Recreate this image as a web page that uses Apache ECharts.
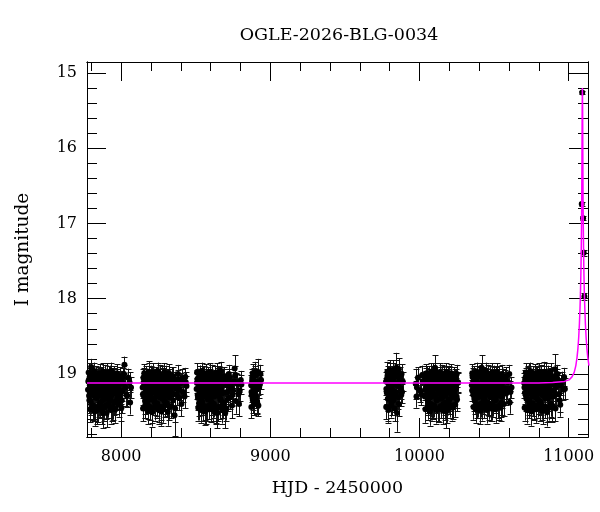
<!DOCTYPE html>
<html>
<head>
<meta charset="utf-8">
<script src="https://cdn.jsdelivr.net/npm/echarts@6/dist/echarts.min.js"></script>
<style>html,body{margin:0;padding:0;background:#fff}#c{width:600px;height:512px}</style>
</head>
<body>
<div id="c"></div>
<script>
// ---- observations: [HJD-2450000, I mag, error] ----
const season1 = [[7778,19.21,0.14],[7783,19.08,0.12],[7787,19.35,0.17],[7790,19.15,0.13],[7799,18.91,0.11],[7801,19.27,0.15],[7805,19.12,0.13],[7810,19.42,0.18],[7814,19.05,0.12],[7819,19.19,0.14],[7824,19.31,0.16],[7828,19.10,0.12],[7833,19.24,0.14],[7838,19.48,0.19],[7842,19.02,0.11],[7847,19.17,0.13],[7851,19.29,0.15],[7856,19.13,0.13],[7861,19.38,0.17],[7866,19.07,0.12],[7870,19.22,0.14],[7875,19.16,0.13],[7880,19.52,0.20],[7884,19.11,0.12],[7889,19.26,0.15],[7893,19.04,0.11],[7898,19.33,0.16],[7903,19.19,0.14],[7908,19.09,0.12],[7912,19.40,0.18],[7917,19.14,0.13],[7921,19.23,0.14],[7926,19.06,0.12],[7931,19.30,0.16],[7936,19.18,0.13],[7940,19.45,0.18],[7945,19.12,0.13],[7950,19.25,0.15],[7955,19.03,0.11],[7960,19.20,0.14],[7966,19.36,0.17],[7972,19.10,0.12],[7978,19.27,0.15],[7985,19.15,0.13],[7992,19.32,0.16],[8000,19.08,0.12],[8008,19.22,0.14],[8016,19.13,0.13],[8022,18.88,0.11],[8035,19.28,0.15],[8047,19.05,0.12],[8066,19.18,0.14]];
const season2 = [[8144,19.18,0.14],[8149,19.05,0.12],[8153,19.30,0.16],[8158,19.12,0.13],[8163,19.41,0.18],[8167,19.09,0.12],[8172,19.24,0.14],[8176,19.15,0.13],[8181,19.35,0.17],[8186,19.20,0.14],[8190,19.00,0.17],[8195,19.28,0.15],[8199,19.07,0.12],[8204,19.46,0.19],[8209,19.13,0.13],[8213,19.22,0.14],[8218,19.04,0.11],[8222,19.33,0.16],[8227,19.17,0.13],[8232,19.26,0.15],[8236,19.10,0.12],[8241,19.39,0.17],[8246,19.14,0.13],[8250,19.21,0.14],[8255,19.06,0.12],[8259,19.31,0.16],[8264,19.19,0.14],[8269,19.50,0.19],[8273,19.11,0.12],[8278,19.25,0.15],[8283,19.03,0.11],[8287,19.16,0.13],[8292,19.36,0.17],[8297,19.08,0.12],[8302,19.23,0.14],[8307,19.13,0.13],[8312,19.29,0.15],[8318,19.05,0.12],[8324,19.43,0.18],[8330,19.18,0.14],[8337,19.10,0.12],[8344,19.27,0.15],[8352,19.15,0.13],[8358,19.55,0.28],[8369,19.20,0.14],[8378,19.07,0.12],[8388,19.32,0.16],[8400,19.12,0.13],[8416,19.24,0.14],[8438,19.16,0.13]];
const season3 = [[8506,19.20,0.14],[8511,19.07,0.12],[8515,19.32,0.16],[8520,19.13,0.13],[8524,19.44,0.18],[8529,19.02,0.13],[8534,19.26,0.15],[8538,19.16,0.13],[8543,19.37,0.17],[8548,19.09,0.12],[8552,19.22,0.14],[8557,19.04,0.11],[8561,19.30,0.16],[8566,19.14,0.13],[8571,19.48,0.19],[8575,19.11,0.12],[8580,19.25,0.15],[8585,19.18,0.14],[8589,19.06,0.12],[8594,19.34,0.16],[8599,19.15,0.13],[8603,19.23,0.14],[8608,19.01,0.13],[8613,19.28,0.15],[8617,19.12,0.13],[8622,19.40,0.18],[8627,19.19,0.14],[8631,19.08,0.12],[8636,19.27,0.15],[8641,19.14,0.13],[8645,19.52,0.20],[8650,19.10,0.12],[8655,19.21,0.14],[8660,19.03,0.12],[8665,19.33,0.16],[8670,19.17,0.13],[8676,19.26,0.15],[8682,19.05,0.12],[8688,19.38,0.17],[8698,19.52,0.20],[8704,19.13,0.13],[8712,19.24,0.14],[8720,19.09,0.12],[8730,19.31,0.16],[8740,19.16,0.13],[8750,19.22,0.14],[8761,18.93,0.18],[8772,19.11,0.12],[8786,19.27,0.15],[8806,19.14,0.13]];
const season4 = [[8872,19.15,0.13],[8876,19.28,0.15],[8879,19.05,0.12],[8883,19.35,0.17],[8887,19.12,0.13],[8891,19.22,0.14],[8896,18.98,0.14],[8902,19.30,0.16],[8908,19.10,0.12],[8915,18.97,0.17],[8920,19.42,0.14],[8925,19.18,0.14],[8938,19.08,0.12]];
const season5 = [[9776,19.10,0.13],[9781,19.25,0.15],[9786,19.02,0.12],[9790,19.45,0.17],[9795,19.15,0.13],[9800,18.98,0.12],[9805,19.30,0.16],[9810,19.08,0.12],[9815,19.20,0.14],[9820,18.95,0.13],[9826,19.35,0.16],[9831,19.12,0.13],[9837,19.03,0.12],[9843,19.24,0.15],[9846,18.92,0.20],[9850,19.52,0.25],[9855,19.16,0.13],[9862,18.94,0.15],[9869,19.05,0.14],[9878,19.28,0.15],[9888,19.10,0.13]];
const season6 = [[9975,19.13,0.20],[9990,19.05,0.14],[10004,19.22,0.15],[10022,19.10,0.13],[10036,19.30,0.16],[10041,19.08,0.12],[10046,19.18,0.14],[10051,19.02,0.12],[10056,19.35,0.17],[10061,19.12,0.13],[10066,19.24,0.14],[10071,19.06,0.12],[10076,19.40,0.18],[10081,19.15,0.13],[10086,19.21,0.14],[10091,18.99,0.13],[10096,19.29,0.15],[10100,19.11,0.13],[10104,18.92,0.17],[10109,19.19,0.14],[10114,19.33,0.16],[10119,19.07,0.12],[10124,19.25,0.15],[10129,19.14,0.13],[10134,19.46,0.18],[10139,19.09,0.12],[10144,19.22,0.14],[10149,19.03,0.12],[10154,19.31,0.16],[10159,19.16,0.13],[10164,19.27,0.15],[10169,19.10,0.12],[10174,19.38,0.17],[10179,19.50,0.22],[10184,19.13,0.13],[10189,19.20,0.14],[10194,19.05,0.12],[10199,19.34,0.16],[10204,19.17,0.13],[10210,19.26,0.15],[10216,19.08,0.12],[10222,19.42,0.18],[10228,19.15,0.13],[10235,19.23,0.14],[10242,19.06,0.12],[10249,19.30,0.16],[10256,19.12,0.13]];
const season7 = [[10351,19.15,0.13],[10356,19.04,0.12],[10361,19.28,0.15],[10366,19.10,0.13],[10371,19.36,0.17],[10376,19.07,0.12],[10381,19.20,0.14],[10386,18.98,0.13],[10391,19.31,0.16],[10396,19.13,0.13],[10401,19.24,0.14],[10406,19.02,0.12],[10411,19.40,0.18],[10417,18.92,0.17],[10422,19.18,0.14],[10427,19.27,0.15],[10432,19.09,0.12],[10437,19.33,0.16],[10442,19.14,0.13],[10447,19.22,0.14],[10452,19.05,0.12],[10457,19.38,0.17],[10462,19.16,0.13],[10467,19.25,0.15],[10472,19.08,0.12],[10477,19.30,0.16],[10482,19.12,0.13],[10487,19.44,0.18],[10492,19.19,0.14],[10497,19.03,0.12],[10502,19.27,0.15],[10507,19.14,0.13],[10512,19.35,0.17],[10517,19.10,0.12],[10522,19.21,0.14],[10528,19.06,0.12],[10534,19.29,0.15],[10540,19.15,0.13],[10546,19.40,0.17],[10552,19.38,0.17],[10558,19.11,0.13],[10566,19.24,0.14],[10575,19.07,0.12],[10588,19.20,0.14],[10602,19.00,0.12],[10617,19.18,0.14]];
const season8 = [[10702,19.12,0.13],[10707,19.25,0.15],[10712,19.04,0.12],[10717,19.33,0.16],[10722,19.10,0.13],[10727,19.20,0.14],[10732,18.99,0.13],[10737,19.37,0.17],[10742,19.14,0.13],[10747,19.23,0.14],[10752,19.06,0.12],[10757,19.30,0.16],[10762,19.16,0.13],[10767,19.42,0.18],[10772,19.09,0.12],[10777,19.26,0.15],[10782,19.02,0.12],[10787,19.19,0.14],[10792,19.34,0.16],[10797,19.11,0.13],[10802,19.24,0.14],[10807,19.05,0.12],[10812,19.38,0.17],[10817,19.15,0.13],[10822,19.28,0.15],[10827,19.08,0.12],[10832,19.21,0.14],[10837,18.97,0.13],[10842,19.32,0.16],[10847,19.13,0.13],[10852,19.46,0.18],[10857,19.10,0.12],[10862,19.25,0.15],[10867,19.17,0.13],[10872,19.04,0.12],[10878,19.30,0.16],[10884,19.14,0.13],[10888,19.44,0.20],[10895,19.22,0.14],[10902,19.07,0.12],[10910,18.94,0.20],[10918,19.27,0.15],[10928,19.12,0.13],[10940,19.35,0.16],[10955,19.09,0.12],[10975,19.20,0.14]];
const eventPoints = [[11091,15.26,0.02],[11088,16.74,0.03],[11097,16.93,0.03],[11101,17.39,0.04],[11106,17.97,0.05]];

// further nights in each season (times, magnitudes, errors)
const extra1T = [7780,7785,7789,7793,7796,7803,7807,7812,7816,7821,7826,7830,7836,7840,7845,7849,7853,7858,7863,7868,7872,7877,7882,7886,7891,7896,7900,7905,7910,7915,7919,7924,7928,7933,7938,7943,7948,7952,7957,7963,7969,7975,7981,7988,7996,8004,8012,8028,8041,8056];
const extra1M = [19.10,19.29,19.04,19.22,19.37,19.14,19.01,19.26,19.17,19.44,19.09,19.20,19.32,19.06,19.25,19.13,19.40,19.03,19.18,19.28,19.11,19.35,19.07,19.21,19.15,19.42,19.05,19.24,19.30,19.12,19.01,19.19,19.34,19.08,19.27,19.16,19.03,19.38,19.14,19.23,19.06,19.31,19.19,19.09,19.25,19.35,19.04,19.18,19.29,19.11];
const extra1E = [0.13,0.15,0.12,0.14,0.17,0.13,0.12,0.15,0.13,0.18,0.12,0.14,0.16,0.12,0.15,0.13,0.17,0.11,0.14,0.15,0.12,0.16,0.12,0.14,0.13,0.18,0.12,0.14,0.16,0.13,0.11,0.14,0.16,0.12,0.15,0.13,0.11,0.17,0.13,0.14,0.12,0.16,0.14,0.12,0.15,0.17,0.12,0.14,0.15,0.13];
const extra1bT = [7782,7792,7798,7808,7818,7823,7832,7844,7855,7860,7865,7874,7879,7888,7895,7902,7907,7914,7923,7930,7935,7942,7954,7962,7970,7983,7990,8002,8019,8060];
const extra1bM = [18.98,19.47,19.01,19.44,18.96,19.50,19.02,19.46,18.99,19.43,19.03,19.49,18.97,19.45,19.00,19.52,18.98,19.42,19.01,19.48,18.96,19.44,19.02,19.47,18.99,19.41,19.03,19.45,19.00,19.38];
const extra1bE = [0.12,0.17,0.12,0.17,0.11,0.19,0.12,0.18,0.12,0.16,0.12,0.18,0.11,0.17,0.12,0.19,0.12,0.16,0.12,0.18,0.11,0.17,0.12,0.18,0.12,0.16,0.12,0.17,0.12,0.16];
const extra2T = [8146,8151,8156,8160,8165,8170,8174,8179,8183,8188,8192,8197,8202,8206,8211,8216,8220,8225,8229,8234,8239,8243,8248,8253,8257,8262,8266,8271,8276,8280,8285,8290,8294,8299,8305,8310,8315,8321,8327,8334,8341,8348,8355,8364,8373,8383,8394,8407,8425,8433];
const extra2M = [19.27,19.11,19.03,19.36,19.19,19.24,19.06,19.42,19.13,19.30,19.08,19.17,19.25,19.02,19.34,19.15,19.21,19.38,19.09,19.20,19.04,19.29,19.16,19.45,19.12,19.06,19.26,19.18,19.33,19.10,19.22,19.05,19.28,19.14,19.39,19.07,19.19,19.31,19.12,19.24,19.02,19.35,19.17,19.09,19.27,19.14,19.21,19.06,19.30,19.11];
const extra2E = [0.15,0.12,0.11,0.17,0.14,0.14,0.12,0.18,0.13,0.16,0.12,0.13,0.15,0.11,0.16,0.13,0.14,0.17,0.12,0.14,0.11,0.15,0.13,0.19,0.13,0.12,0.15,0.14,0.16,0.12,0.14,0.11,0.15,0.13,0.17,0.12,0.14,0.16,0.13,0.14,0.11,0.17,0.13,0.12,0.15,0.13,0.14,0.12,0.16,0.13];
const extra2bT = [8147,8155,8162,8169,8178,8185,8193,8201,8208,8215,8224,8231,8238,8245,8252,8261,8268,8275,8282,8289,8296,8304,8313,8320,8332,8346,8362,8381,8404,8430];
const extra2bM = [19.46,18.99,19.43,19.02,19.49,18.97,19.44,19.01,19.51,18.98,19.45,19.03,19.42,18.96,19.48,19.00,19.44,19.02,19.47,18.98,19.41,19.01,19.50,18.99,19.43,19.03,19.46,19.00,19.40,19.04];
const extra2bE = [0.17,0.12,0.16,0.12,0.18,0.11,0.17,0.12,0.19,0.12,0.17,0.12,0.16,0.11,0.18,0.12,0.17,0.12,0.18,0.12,0.16,0.12,0.19,0.12,0.16,0.12,0.18,0.12,0.16,0.12];
const extra3T = [8508,8513,8518,8522,8527,8531,8536,8541,8545,8550,8555,8559,8564,8568,8573,8578,8582,8587,8592,8596,8601,8606,8610,8615,8620,8624,8629,8634,8638,8643,8648,8652,8657,8662,8667,8673,8679,8685,8692,8701,8708,8716,8725,8735,8745,8755,8767,8779,8795,8802];
const extra3M = [19.12,19.28,19.05,19.39,19.17,19.23,19.08,19.31,19.14,19.02,19.26,19.19,19.43,19.10,19.21,19.06,19.34,19.15,19.27,19.04,19.18,19.37,19.11,19.24,19.07,19.30,19.16,19.46,19.13,19.22,19.03,19.29,19.17,19.09,19.35,19.20,19.12,19.41,19.06,19.25,19.15,19.33,19.04,19.19,19.28,19.10,19.36,19.13,19.22,19.08];
const extra3E = [0.13,0.15,0.12,0.17,0.13,0.14,0.12,0.16,0.13,0.12,0.15,0.14,0.18,0.12,0.14,0.12,0.16,0.13,0.15,0.11,0.14,0.17,0.12,0.14,0.12,0.16,0.13,0.19,0.13,0.14,0.11,0.15,0.13,0.12,0.16,0.14,0.13,0.18,0.12,0.15,0.13,0.16,0.11,0.14,0.15,0.12,0.17,0.13,0.14,0.12];
const extra3bT = [8509,8517,8526,8533,8540,8547,8554,8563,8570,8577,8584,8591,8598,8605,8612,8619,8626,8633,8640,8647,8654,8661,8669,8678,8690,8706,8722,8743,8764,8790];
const extra3bM = [18.98,19.45,19.01,19.48,18.96,19.43,19.02,19.50,18.99,19.46,19.03,19.42,18.97,19.47,19.00,19.44,19.02,19.51,18.98,19.45,19.01,19.43,18.96,19.48,19.03,19.46,19.00,19.42,19.02,19.40];
const extra3bE = [0.12,0.17,0.12,0.17,0.11,0.19,0.12,0.18,0.12,0.16,0.12,0.18,0.11,0.17,0.12,0.19,0.12,0.16,0.12,0.18,0.11,0.17,0.12,0.18,0.12,0.16,0.12,0.17,0.12,0.16];
const extra4T = [8874,8878,8881,8885,8889,8894,8899,8905,8911,8930,8873,8882,8893,8900,8912,8934];
const extra4M = [19.24,19.09,19.32,19.18,19.04,19.27,19.13,19.21,19.36,19.14,19.44,18.99,19.40,19.02,19.38,19.00];
const extra4E = [0.14,0.12,0.16,0.13,0.12,0.15,0.13,0.14,0.16,0.13,0.15,0.12,0.15,0.12,0.15,0.12];
const extra5T = [9778,9783,9788,9793,9798,9803,9808,9813,9818,9823,9829,9834,9840,9852,9858,9865,9873,9883,9777,9785,9792,9801,9812,9822,9833,9844,9860,9880];
const extra5M = [19.20,19.06,19.33,19.12,19.25,19.02,19.17,19.38,19.09,19.22,19.05,19.28,19.14,19.00,19.31,19.10,19.19,19.24,19.44,18.97,19.48,18.95,19.42,18.98,19.46,18.96,19.40,19.00];
const extra5E = [0.14,0.12,0.16,0.13,0.15,0.12,0.13,0.17,0.12,0.14,0.12,0.15,0.13,0.13,0.16,0.13,0.14,0.15,0.16,0.13,0.17,0.13,0.16,0.12,0.17,0.14,0.16,0.13];
const extra6T = [10038,10043,10048,10053,10058,10063,10068,10073,10078,10083,10088,10093,10098,10102,10106,10111,10116,10121,10126,10131,10136,10141,10146,10151,10156,10161,10166,10171,10176,10181,10186,10191,10196,10201,10207,10213,10219,10225,10231,10238,10245,10252,10259,9983,10012];
const extra6M = [19.21,19.04,19.27,19.13,19.38,19.09,19.19,19.31,19.06,19.24,19.14,19.42,19.02,19.17,19.28,19.10,19.35,19.20,19.07,19.26,19.15,19.33,19.05,19.22,19.12,19.40,19.18,19.08,19.29,19.14,19.24,19.03,19.36,19.16,19.21,19.09,19.31,19.13,19.25,19.06,19.19,19.34,19.11,19.18,19.27];
const extra6E = [0.14,0.12,0.15,0.13,0.17,0.12,0.14,0.16,0.12,0.14,0.13,0.18,0.12,0.13,0.15,0.12,0.17,0.14,0.12,0.15,0.13,0.16,0.12,0.14,0.13,0.18,0.14,0.12,0.15,0.13,0.14,0.12,0.17,0.13,0.14,0.12,0.16,0.13,0.15,0.12,0.14,0.16,0.13,0.14,0.15];
const extra6bT = [10040,10047,10055,10062,10069,10077,10084,10092,10099,10107,10113,10120,10127,10135,10142,10150,10157,10165,10172,10180,10187,10195,10203,10211,10220,10230,10240,10250,9980,10017];
const extra6bM = [19.47,18.99,19.44,19.02,19.50,18.97,19.45,19.01,19.42,18.96,19.48,19.03,19.46,18.98,19.43,19.00,19.49,19.02,19.44,18.97,19.47,19.01,19.42,18.99,19.45,19.03,19.41,19.00,19.30,19.02];
const extra6bE = [0.18,0.12,0.17,0.12,0.19,0.11,0.17,0.12,0.16,0.11,0.18,0.12,0.17,0.12,0.16,0.12,0.18,0.12,0.17,0.11,0.18,0.12,0.16,0.12,0.17,0.12,0.16,0.12,0.15,0.13];
const extra7T = [10353,10358,10363,10368,10373,10378,10383,10388,10393,10398,10403,10408,10414,10419,10424,10429,10434,10439,10444,10449,10454,10459,10464,10469,10474,10479,10484,10489,10494,10499,10504,10509,10514,10519,10525,10531,10537,10543,10549,10555,10562,10570,10581,10595,10610];
const extra7M = [19.22,19.12,19.05,19.33,19.17,19.26,19.09,19.41,19.14,19.20,19.03,19.30,19.15,19.24,19.07,19.36,19.11,19.19,19.28,19.04,19.23,19.13,19.39,19.08,19.18,19.31,19.06,19.25,19.14,19.34,19.10,19.21,19.02,19.28,19.16,19.43,19.09,19.22,19.13,19.30,19.05,19.19,19.26,19.11,19.24];
const extra7E = [0.14,0.13,0.12,0.16,0.13,0.15,0.12,0.18,0.13,0.14,0.12,0.16,0.13,0.14,0.12,0.17,0.13,0.14,0.15,0.12,0.14,0.13,0.17,0.12,0.14,0.16,0.12,0.15,0.13,0.16,0.12,0.14,0.11,0.15,0.13,0.18,0.12,0.14,0.13,0.16,0.12,0.14,0.15,0.13,0.14];
const extra7bT = [10354,10362,10369,10377,10384,10392,10399,10407,10415,10421,10428,10436,10443,10450,10458,10465,10473,10480,10488,10495,10503,10510,10518,10526,10535,10544,10553,10565,10580,10605];
const extra7bM = [18.99,19.44,19.02,19.47,18.97,19.42,19.01,19.49,18.98,19.45,19.03,19.43,18.96,19.48,19.00,19.44,19.02,19.46,18.98,19.41,19.01,19.47,18.97,19.43,19.02,19.45,19.00,19.40,19.03,19.38];
const extra7bE = [0.12,0.17,0.12,0.18,0.11,0.16,0.12,0.18,0.12,0.17,0.12,0.16,0.11,0.18,0.12,0.17,0.12,0.17,0.12,0.16,0.12,0.18,0.11,0.16,0.12,0.17,0.12,0.16,0.12,0.15];
const extra8T = [10704,10709,10714,10719,10724,10729,10734,10739,10744,10749,10754,10759,10764,10769,10774,10779,10784,10789,10794,10799,10804,10809,10814,10819,10824,10829,10834,10839,10844,10849,10854,10859,10864,10869,10875,10881,10886,10892,10898,10906,10914,10923,10934,10947,10965];
const extra8M = [19.18,19.07,19.29,19.14,19.23,19.03,19.35,19.11,19.20,19.26,19.08,19.39,19.15,19.22,19.05,19.31,19.12,19.27,19.17,19.02,19.36,19.13,19.21,19.09,19.43,19.16,19.24,19.06,19.28,19.11,19.19,19.33,19.08,19.25,19.14,19.40,19.04,19.22,19.30,19.13,19.18,19.06,19.27,19.15,19.21];
const extra8E = [0.14,0.12,0.15,0.13,0.14,0.12,0.16,0.13,0.14,0.15,0.12,0.17,0.13,0.14,0.12,0.16,0.13,0.15,0.13,0.12,0.17,0.13,0.14,0.12,0.18,0.13,0.14,0.12,0.15,0.13,0.14,0.16,0.12,0.15,0.13,0.17,0.12,0.14,0.16,0.13,0.14,0.12,0.15,0.13,0.14];
const extra8bT = [10705,10713,10720,10728,10735,10743,10750,10758,10765,10773,10780,10788,10795,10803,10810,10818,10825,10833,10840,10848,10855,10863,10870,10879,10890,10900,10912,10925,10944,10970];
const extra8bM = [19.45,18.98,19.48,19.01,19.43,18.96,19.50,19.02,19.44,18.99,19.47,19.03,19.42,18.97,19.46,19.00,19.49,19.02,19.43,18.98,19.51,19.01,19.45,18.97,19.42,19.03,19.46,19.00,19.41,19.04];
const extra8bE = [0.17,0.12,0.18,0.12,0.16,0.11,0.19,0.12,0.17,0.12,0.18,0.12,0.16,0.11,0.17,0.12,0.18,0.12,0.16,0.12,0.19,0.12,0.17,0.11,0.16,0.12,0.17,0.12,0.16,0.12];

// model light curve
const modelT   = [7771, 9000, 10000, 10800, 10892.5, 10972.5, 11002.5, 11022.5, 11037.5, 11048.5, 11056.5, 11062.5, 11067.5, 11072.5, 11076.5, 11079.5, 11082.5, 11084.5, 11086.5, 11088, 11089.5, 11091, 11092.5, 11094, 11095.5, 11097, 11098.5, 11100.5, 11102.5, 11105.5, 11108.5, 11112.5, 11117.5, 11122.5, 11128.5, 11136.5];
const modelMag = [19.12, 19.12, 19.12, 19.12, 19.115, 19.10, 19.08, 19.04, 18.98, 18.89, 18.78, 18.66, 18.52, 18.33, 18.12, 17.92, 17.65, 17.40, 17.05, 16.70, 16.15, 15.50, 15.20, 15.50, 16.15, 16.70, 17.05, 17.40, 17.65, 17.92, 18.12, 18.33, 18.52, 18.66, 18.78, 18.89];

// axis ticks
const xMajor = [8000, 9000, 10000, 11000];
const xMinor = [7800, 8200, 8400, 8600, 8800, 9200, 9400, 9600, 9800, 10200, 10400, 10600, 10800];
const yMajor = [15, 16, 17, 18, 19];
const yMinor = [15.2, 15.4, 15.6, 15.8, 16.2, 16.4, 16.6, 16.8, 17.2, 17.4, 17.6, 17.8, 18.2, 18.4, 18.6, 18.8, 19.2, 19.4, 19.6, 19.8];
const xRange = [7771, 11130];
const yRange = [14.854, 19.839];

const FONT = 'DejaVu Serif';
function zip(T, M, E) {
  const out = [];
  const n = Math.min(T.length, M.length, E.length);
  for (let i = 0; i < n; i++) out.push([T[i], M[i], E[i]]);
  return out;
}
const allObs = [].concat(
  season1, zip(extra1T, extra1M, extra1E), zip(extra1bT, extra1bM, extra1bE),
  season2, zip(extra2T, extra2M, extra2E), zip(extra2bT, extra2bM, extra2bE),
  season3, zip(extra3T, extra3M, extra3E), zip(extra3bT, extra3bM, extra3bE),
  season4, zip(extra4T, extra4M, extra4E),
  season5, zip(extra5T, extra5M, extra5E),
  season6, zip(extra6T, extra6M, extra6E), zip(extra6bT, extra6bM, extra6bE),
  season7, zip(extra7T, extra7M, extra7E), zip(extra7bT, extra7bM, extra7bE),
  season8, zip(extra8T, extra8M, extra8E), zip(extra8bT, extra8bM, extra8bE),
  eventPoints);
const modelData = modelT.map((t, i) => [t, modelMag[i]]);

const fmt = v => String(v);
function xAx(pos, ticks, len, labels, extra) {
  return Object.assign({
    type: 'value', position: pos, min: xRange[0], max: xRange[1],
    axisLine: { show: true, onZero: false, lineStyle: { color: '#000', width: 1 } },
    axisTick: { show: true, inside: true, length: len, customValues: ticks, lineStyle: { color: '#000', width: 1 } },
    axisLabel: labels ? { show: true, customValues: ticks, formatter: fmt, color: '#000', fontFamily: FONT, fontSize: 16, margin: 12 } : { show: false },
    splitLine: { show: false }
  }, extra || {});
}
function yAx(pos, ticks, len, labels, extra) {
  return Object.assign({
    type: 'value', position: pos, min: yRange[0], max: yRange[1], inverse: true,
    axisLine: { show: true, onZero: false, lineStyle: { color: '#000', width: 1 } },
    axisTick: { show: true, inside: true, length: len, customValues: ticks, lineStyle: { color: '#000', width: 1 } },
    axisLabel: labels ? { show: true, customValues: ticks, formatter: fmt, color: '#000', fontFamily: FONT, fontSize: 16, margin: 10 } : { show: false },
    splitLine: { show: false }
  }, extra || {});
}

const chart = echarts.init(document.getElementById('c'), null, { renderer: 'canvas' });
chart.setOption({
  animation: false,
  backgroundColor: '#fff',
  title: {
    text: 'OGLE-2026-BLG-0034', left: 334, top: 21, textAlign: 'center',
    textStyle: { fontFamily: FONT, fontSize: 17.5, fontWeight: 'normal', color: '#000' }
  },
  grid: { left: 87, top: 62, width: 501, height: 375, containLabel: false },
  xAxis: [
    xAx('bottom', xMajor, 19, true, {
      name: 'HJD - 2450000', nameLocation: 'middle', nameGap: 42,
      nameTextStyle: { fontFamily: FONT, fontSize: 17.5, color: '#000' }
    }),
    xAx('bottom', xMinor, 9, false),
    xAx('top', xMajor, 19, false),
    xAx('top', xMinor, 9, false)
  ],
  yAxis: [
    yAx('left', yMajor, 19, true, {
      name: 'I magnitude', nameLocation: 'middle', nameGap: 54, nameRotate: 90,
      nameTextStyle: { fontFamily: FONT, fontSize: 18.5, color: '#000' }
    }),
    yAx('left', yMinor, 10, false),
    yAx('right', yMajor, 19, false),
    yAx('right', yMinor, 10, false)
  ],
  series: [
    {
      type: 'custom', xAxisIndex: 0, yAxisIndex: 0, z: 2, clip: true,
      data: allObs,
      encode: { x: 0, y: 1 },
      renderItem: function (params, api) {
        const t = api.value(0), m = api.value(1), e = api.value(2);
        const a = api.coord([t, m - e]);
        const b = api.coord([t, m + e]);
        const x = Math.round(a[0]) + 0.5;
        const hw = 3;
        const st = { stroke: '#111', lineWidth: 1 };
        return {
          type: 'group',
          children: [
            { type: 'line', shape: { x1: x, y1: a[1], x2: x, y2: b[1] }, style: st },
            { type: 'line', shape: { x1: x - hw, y1: Math.round(a[1]) + 0.5, x2: x + hw, y2: Math.round(a[1]) + 0.5 }, style: st },
            { type: 'line', shape: { x1: x - hw, y1: Math.round(b[1]) + 0.5, x2: x + hw, y2: Math.round(b[1]) + 0.5 }, style: st }
          ]
        };
      }
    },
    {
      type: 'scatter', xAxisIndex: 0, yAxisIndex: 0, z: 3,
      data: allObs.map(d => [d[0], d[1]]),
      symbol: 'circle', symbolSize: 6,
      itemStyle: { color: '#000', opacity: 1 },
      emphasis: { disabled: true }
    },
    {
      type: 'line', xAxisIndex: 0, yAxisIndex: 0, z: 4,
      data: modelData, showSymbol: false, symbol: 'none', clip: true,
      lineStyle: { color: '#ff00ff', width: 1.5 },
      emphasis: { disabled: true }
    }
  ]
});
</script>
</body>
</html>
